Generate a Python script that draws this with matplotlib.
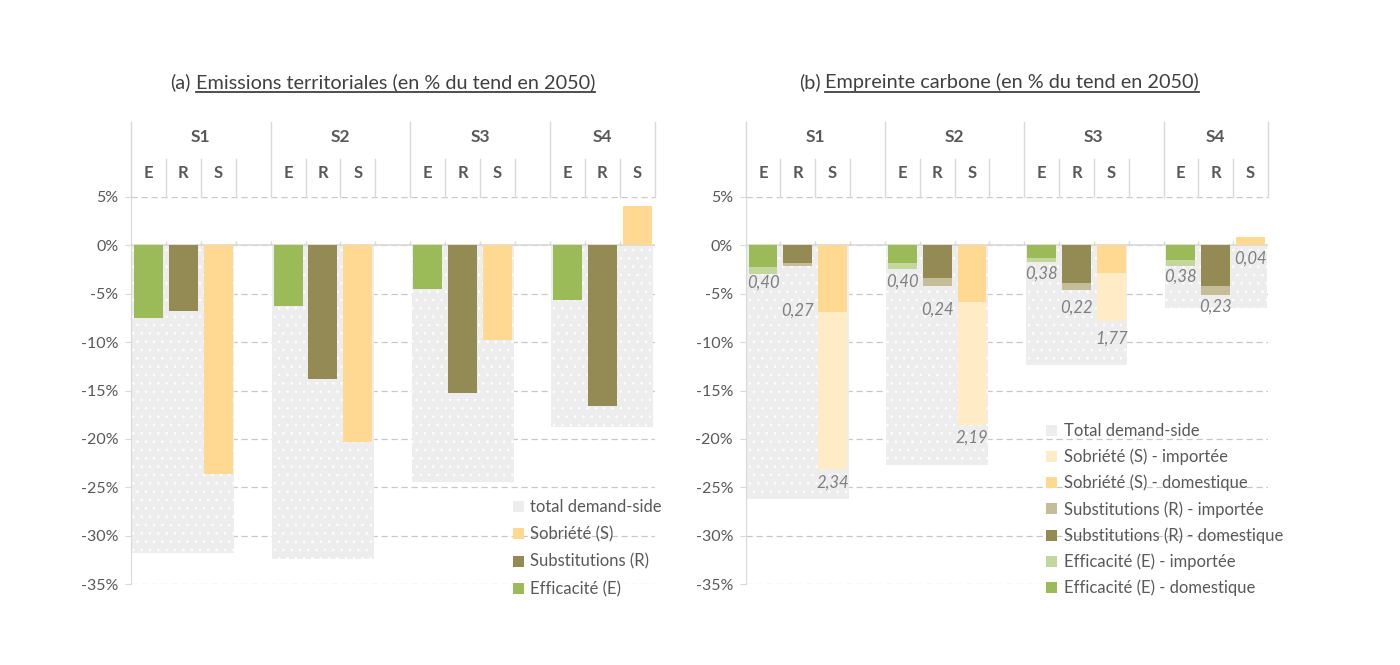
import numpy as np
import matplotlib
matplotlib.use('Agg')
from matplotlib import pyplot as plt
from matplotlib.lines import Line2D
from matplotlib.patches import Patch
from matplotlib.transforms import blended_transform_factory

plt.rcParams['font.family'] = ['Lato', 'DejaVu Sans']
plt.rcParams['hatch.linewidth'] = 0.6

scenarios = ['S1', 'S2', 'S3', 'S4']
levers = ['E', 'R', 'S']

# (a) emissions territoriales, en % du tendanciel 2050
terr_E = [-7.5, -6.3, -4.5, -5.6]
terr_R = [-6.8, -13.8, -15.3, -16.6]
terr_S = [-23.6, -20.3, -9.8, 4.1]
terr_total = [-31.8, -32.4, -24.5, -18.8]

# (b) empreinte carbone, part domestique / importee
carb_E_dom = [-2.2, -1.8, -1.35, -1.55]
carb_E_imp = [-0.75, -0.65, -0.4, -0.6]
carb_R_dom = [-1.8, -3.35, -3.85, -4.15]
carb_R_imp = [-0.35, -0.85, -0.75, -0.95]
carb_S_dom = [-6.9, -5.85, -2.85, 0.9]
carb_S_imp = [-16.2, -12.75, -5.0, 0.0]
carb_total = [-26.2, -22.7, -12.4, -6.45]

# data labels of (b) and the level where they sit
carb_labels = [['0,40', '0,27', '2,34'], ['0,40', '0,24', '2,19'],
               ['0,38', '0,22', '1,77'], ['0,38', '0,23', '0,04']]
carb_label_y = [[-3.9, -6.7, -24.5], [-3.7, -6.6, -19.9],
                [-2.95, -6.4, -9.6], [-3.2, -6.3, -1.35]]

C_E, C_E_IMP = '#9BBB59', '#C3D69B'
C_R, C_R_IMP = '#948A54', '#C4BD97'
C_S, C_S_IMP = '#FFD991', '#FFEBC6'
C_TOT = '#EDEDED'
C_TXT = '#595959'
C_LINE = '#D9D9D9'

W, H = 1400, 665
fig = plt.figure(figsize=(W / 100, H / 100), dpi=100)

y_bot, y_top = (H - 584) / H, (H - 197) / H
ax_a = fig.add_axes([131 / W, y_bot, (654.5 - 131) / W, y_top - y_bot])
ax_b = fig.add_axes([745.6 / W, y_bot, (1268 - 745.6) / W, y_top - y_bot])

slot = lambda i, j: i * 4 + j
x_E = [slot(i, 0) for i in range(4)]
x_R = [slot(i, 1) for i in range(4)]
x_S = [slot(i, 2) for i in range(4)]
bw = 0.83


def setup(ax):
    ax.set_xlim(-0.5, 14.5)
    ax.set_ylim(-35, 5)
    ax.set_yticks(np.arange(-35, 6, 5))
    ax.yaxis.set_major_formatter(lambda v, p: f'{v:.0f}%')
    ax.set_xticks([])
    for s in ['top', 'right', 'bottom']:
        ax.spines[s].set_visible(False)
    ax.spines['left'].set_color(C_LINE)
    ax.tick_params(axis='y', length=4, color=C_LINE, labelsize=11.5,
                   labelcolor=C_TXT, pad=5)
    ax.grid(axis='y', ls=(0, (5, 3)), color='#C8C8C8', lw=0.9)
    ax.set_axisbelow(True)
    ax.axhline(0, color=C_LINE, lw=1.2, zorder=2)
    bounds = np.arange(0.5, 14.5, 1.0)
    ax.vlines(bounds, 0, 0.5, color=C_LINE, lw=1, zorder=2)

    # category header drawn above the plot, like a two-level axis
    tr = blended_transform_factory(ax.transData, ax.transAxes)
    top = 1 + 75 / 387
    mid = 1 + 38 / 387
    for xb in [-0.5, 3.5, 7.5, 11.5, 14.5]:
        ax.add_line(Line2D([xb, xb], [1, top], transform=tr, color=C_LINE,
                           lw=1, clip_on=False))
    for i in range(4):
        for k in range(1, 4):
            xb = 4 * i - 0.5 + k
            if xb < 14.5:
                ax.add_line(Line2D([xb, xb], [1, mid], transform=tr,
                                   color=C_LINE, lw=1, clip_on=False))
    for i, sc in enumerate(scenarios):
        xc = 4 * i + 1.5 if i < 3 else 13
        ax.text(xc, 1 + 60 / 387, sc, transform=tr, ha='center', va='center',
                fontsize=12.5, fontweight='bold', color=C_TXT, clip_on=False)
        for j, lv in enumerate(levers):
            ax.text(slot(i, j), 1 + 24 / 387, lv, transform=tr, ha='center',
                    va='center', fontsize=12, fontweight='bold', color=C_TXT,
                    clip_on=False)


def total_bars(ax, vals):
    ax.bar(x_R, vals, width=2.92, color=C_TOT, edgecolor='white', lw=0,
           hatch='..', zorder=1)


# ---- (a)
setup(ax_a)
total_bars(ax_a, terr_total)
ax_a.bar(x_E, terr_E, width=bw, color=C_E, zorder=3)
ax_a.bar(x_R, terr_R, width=bw, color=C_R, zorder=3)
ax_a.bar(x_S, terr_S, width=bw, color=C_S, zorder=3)

# ---- (b)
setup(ax_b)
total_bars(ax_b, carb_total)
ax_b.bar(x_E, carb_E_dom, width=bw, color=C_E, zorder=3)
ax_b.bar(x_E, carb_E_imp, bottom=carb_E_dom, width=bw, color=C_E_IMP, zorder=3)
ax_b.bar(x_R, carb_R_dom, width=bw, color=C_R, zorder=3)
ax_b.bar(x_R, carb_R_imp, bottom=carb_R_dom, width=bw, color=C_R_IMP, zorder=3)
ax_b.bar(x_S, carb_S_dom, width=bw, color=C_S, zorder=3)
ax_b.bar(x_S, carb_S_imp, bottom=carb_S_dom, width=bw, color=C_S_IMP, zorder=3)
for i in range(4):
    for j in range(3):
        ax_b.text(slot(i, j), carb_label_y[i][j], carb_labels[i][j],
                  ha='center', va='center', fontsize=12, style='italic',
                  color='#7F7F7F', zorder=4)

# ---- legends
sq = dict(lw=0)
leg_a = [Patch(color=C_TOT, **sq), Patch(color=C_S, **sq),
         Patch(color=C_R, **sq), Patch(color=C_E, **sq)]
lab_a = ['total demand-side', 'Sobriété (S)', 'Substitutions (R)', 'Efficacité (E)']
leg_b = [Patch(color=C_TOT, **sq), Patch(color=C_S_IMP, **sq),
         Patch(color=C_S, **sq), Patch(color=C_R_IMP, **sq),
         Patch(color=C_R, **sq), Patch(color=C_E_IMP, **sq),
         Patch(color=C_E, **sq)]
lab_b = ['Total demand-side', 'Sobriété (S) - importée',
         'Sobriété (S) - domestique', 'Substitutions (R) - importée',
         'Substitutions (R) - domestique', 'Efficacité (E) - importée',
         'Efficacité (E) - domestique']
common = dict(frameon=False, loc='upper left', fontsize=12, borderpad=0,
              borderaxespad=0, handlelength=0.65, handleheight=0.65,
              handletextpad=0.4, labelcolor=C_TXT)
fig.legend(leg_a, lab_a, bbox_to_anchor=(513 / W, 1 - 499 / H),
           labelspacing=0.68, **common)
fig.legend(leg_b, lab_b, bbox_to_anchor=(1046 / W, 1 - 423 / H),
           labelspacing=0.58, **common)

# ---- titles with underlined part
titles = [(382.5, '(a)', 'Emissions territoriales (en % du tend en 2050)'),
          (999, '(b)', 'Empreinte carbone (en % du tend en 2050)')]
tobjs = []
for cx, pre, main in titles:
    t1 = fig.text(0, 1 - 88 / H, pre, fontsize=14.3, color='#404040', va='baseline')
    t2 = fig.text(0, 1 - 88 / H, main, fontsize=14.3, color='#404040', va='baseline')
    tobjs.append((cx, t1, t2))
fig.canvas.draw()
r = fig.canvas.get_renderer()
for cx, t1, t2 in tobjs:
    w1 = t1.get_window_extent(r).width
    w2 = t2.get_window_extent(r).width
    gap = 5
    left = cx - (w1 + gap + w2) / 2
    t1.set_x(left / W)
    x2 = left + w1 + gap
    t2.set_x(x2 / W)
    fig.add_artist(Line2D([x2 / W, (x2 + w2) / W], [1 - 92 / H] * 2,
                          color='#404040', lw=1.3))

fig.savefig('out.png', dpi=100)
